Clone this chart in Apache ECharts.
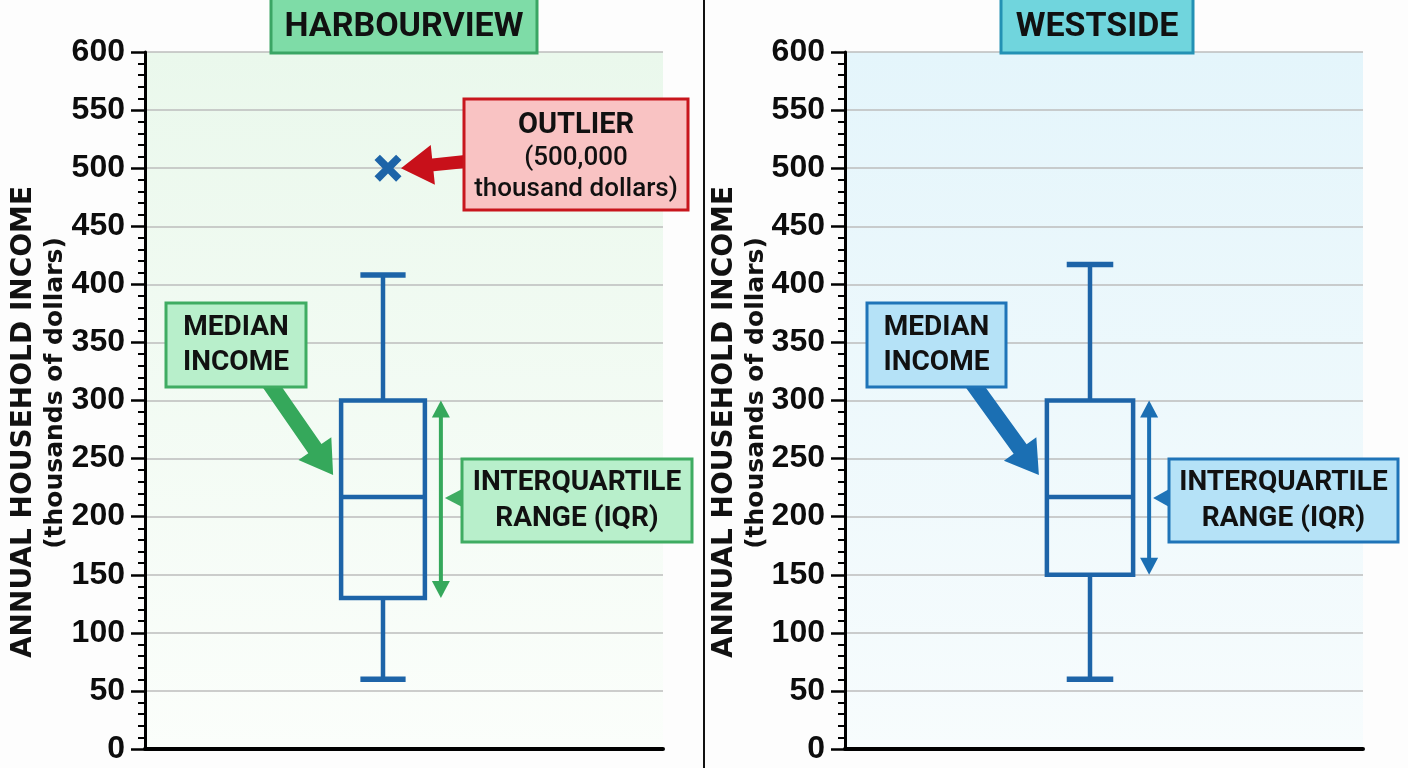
<!DOCTYPE html>
<html><head><meta charset="utf-8">
<script src="https://cdn.jsdelivr.net/npm/echarts@6/dist/echarts.min.js"></script>
<style>html,body{margin:0;padding:0;background:#fdfdfd}#c{width:1408px;height:768px}</style>
</head><body><div id="c"></div>
<script>
// ---- data ----
const categories = ['Harbourview', 'Westside'];
const panelTitles = ['HARBOURVIEW', 'WESTSIDE'];
const boxMin = [60, 60];
const boxQ1 = [130, 150];
const boxMedian = [217, 217];
const boxQ3 = [300, 300];
const boxMax = [408, 417];
const outlierValues = [[500], []];
const yAxisMin = 0, yAxisMax = 600, yAxisInterval = 50;
const yTitle = 'ANNUAL HOUSEHOLD INCOME';
const ySubtitle = '(thousands of dollars)';
const noteMedian = ['MEDIAN', 'INCOME'];
const noteIQR = ['INTERQUARTILE', 'RANGE (IQR)'];
const noteOutlier = ['OUTLIER', '(500,000', 'thousand dollars)'];

// ---- layout / style ----
const TOP = 52, H = 697;
const panels = [
  {axisLeft: 145, gridW: 518, boxGridW: 476, titleX: 271, titleW: 266,
   titleFill: '#7edca7', titleStroke: '#3aa564', noteFill: '#b8efcb', noteStroke: '#3fac62', arrow: '#35a85b',
   bgTop: '#eaf8ec', bgBottom: '#fbfefb', med: {x: 166, y: 303, w: 140, h: 84, sx: 268},
   iqr: {x: 462, y: 459, w: 230, h: 83}, yt: 24},
  {axisLeft: 845, gridW: 518, boxGridW: 490, titleX: 1001, titleW: 192,
   titleFill: '#70d5dd', titleStroke: '#2391b4', noteFill: '#b5e2f7', noteStroke: '#1f74b8', arrow: '#1b6fb3',
   bgTop: '#e4f5fb', bgBottom: '#f7fcfd', med: {x: 867, y: 303, w: 139, h: 84, sx: 971},
   iqr: {x: 1169, y: 459, w: 229, h: 83}, yt: 725}
];
const BOX_COLOR = '#1d64a8';
const TICK_FONT = '"Liberation Sans", Arial, sans-serif';
const NOTE_FONT = 'Roboto, "Liberation Sans", sans-serif';

const chart = echarts.init(document.getElementById('c'));

function renderBox(params, api) {
  const cat = api.value(0);
  const pMin = api.coord([cat, api.value(1)]);
  const pQ1 = api.coord([cat, api.value(2)]);
  const pMed = api.coord([cat, api.value(3)]);
  const pQ3 = api.coord([cat, api.value(4)]);
  const pMax = api.coord([cat, api.value(5)]);
  const band = api.size([1, 0])[0];
  const cx = pMed[0];
  const bw = band * 0.176, cw = band * 0.095;
  const ls = {stroke: BOX_COLOR, lineWidth: 4.5, fill: null};
  const cs = {stroke: BOX_COLOR, lineWidth: 5.5, fill: null};
  return {type: 'group', children: [
    {type: 'line', shape: {x1: cx, y1: pQ3[1], x2: cx, y2: pMax[1]}, style: ls},
    {type: 'line', shape: {x1: cx, y1: pQ1[1], x2: cx, y2: pMin[1]}, style: ls},
    {type: 'line', shape: {x1: cx - cw / 2, y1: pMax[1], x2: cx + cw / 2, y2: pMax[1]}, style: cs},
    {type: 'line', shape: {x1: cx - cw / 2, y1: pMin[1], x2: cx + cw / 2, y2: pMin[1]}, style: cs},
    {type: 'rect', shape: {x: cx - bw / 2, y: pQ3[1], width: bw, height: pQ1[1] - pQ3[1]}, style: {stroke: BOX_COLOR, lineWidth: 4.5, fill: 'none'}},
    {type: 'line', shape: {x1: cx - bw / 2, y1: pMed[1], x2: cx + bw / 2, y2: pMed[1]}, style: ls}
  ]};
}

const grids = [], xAxes = [], yAxes = [], series = [];
panels.forEach((p, i) => {
  grids.push({left: p.axisLeft, top: TOP, width: p.gridW, height: H, show: true, borderWidth: 0,
    backgroundColor: {type: 'linear', x: 0, y: 0, x2: 0, y2: 1, colorStops: [{offset: 0, color: p.bgTop}, {offset: 1, color: p.bgBottom}]}});
  grids.push({left: p.axisLeft, top: TOP, width: p.boxGridW, height: H});
  xAxes.push({type: 'category', gridIndex: 2 * i, data: [''], axisLine: {lineStyle: {color: '#000', width: 4}},
    axisTick: {show: false}, axisLabel: {show: false}});
  xAxes.push({type: 'category', gridIndex: 2 * i + 1, data: [categories[i]], show: false});
  yAxes.push({type: 'value', gridIndex: 2 * i, min: yAxisMin, max: yAxisMax, interval: yAxisInterval,
    axisLine: {show: true, lineStyle: {color: '#000', width: 3}},
    axisTick: {show: true, length: 14, lineStyle: {color: '#000', width: 2.5}},
    minorTick: {show: true, splitNumber: 5, length: 7, lineStyle: {color: '#000', width: 2}},
    splitLine: {show: true, lineStyle: {color: '#bdbdbd', width: 1.5}},
    axisLabel: {margin: 20, fontSize: 32, fontWeight: 'bold', fontFamily: TICK_FONT, color: '#0d0d0d'}});
  yAxes.push({type: 'value', gridIndex: 2 * i + 1, min: yAxisMin, max: yAxisMax, show: false});
  series.push({type: 'custom', xAxisIndex: 2 * i + 1, yAxisIndex: 2 * i + 1, renderItem: renderBox,
    encode: {x: 0, y: [1, 2, 3, 4, 5]},
    data: [[0, boxMin[i], boxQ1[i], boxMedian[i], boxQ3[i], boxMax[i]]], z: 5});
  series.push({type: 'scatter', xAxisIndex: 2 * i + 1, yAxisIndex: 2 * i + 1,
    data: outlierValues[i].map(v => [0, v]), symbolSize: 27, symbolOffset: [5, 0],
    symbol: 'path://M4,0 L10,6 L16,0 L20,4 L14,10 L20,16 L16,20 L10,14 L4,20 L0,16 L6,10 L0,4 Z',
    itemStyle: {color: BOX_COLOR, opacity: 1}, z: 6});
});

chart.setOption({animation: false, backgroundColor: '#fdfdfd', grid: grids, xAxis: xAxes, yAxis: yAxes, series: series});

function arrowPts(x1, y1, x2, y2, sw, hw, hl) {
  const dx = x2 - x1, dy = y2 - y1, L = Math.hypot(dx, dy), ux = dx / L, uy = dy / L, nx = -uy, ny = ux;
  const bx = x2 - ux * hl, by = y2 - uy * hl;
  return [[x1 + nx * sw / 2, y1 + ny * sw / 2], [bx + nx * sw / 2, by + ny * sw / 2], [bx + nx * hw / 2, by + ny * hw / 2],
          [x2, y2], [bx - nx * hw / 2, by - ny * hw / 2], [bx - nx * sw / 2, by - ny * sw / 2], [x1 - nx * sw / 2, y1 - ny * sw / 2]];
}
function noteBox(b, fill, stroke, lines, fontSize, lineH, z, weights) {
  const els = [{type: 'rect', z: z, shape: {x: b.x, y: b.y, width: b.w, height: b.h}, style: {fill: fill, stroke: stroke, lineWidth: 3}}];
  const n = lines.length, cy = b.y + b.h / 2;
  lines.forEach((t, k) => {
    const fs = Array.isArray(fontSize) ? fontSize[k] : fontSize;
    const fw = weights ? weights[k] : 'bold';
    els.push({type: 'text', z: z + 1, x: b.x + b.w / 2, y: cy + (k - (n - 1) / 2) * lineH,
      style: {text: t, fill: '#111', font: fw + ' ' + fs + 'px ' + NOTE_FONT, align: 'center', verticalAlign: 'middle'}});
  });
  return els;
}

const g = [];
// divider
g.push({type: 'line', z: 20, shape: {x1: 704, y1: 0, x2: 704, y2: 768}, style: {stroke: '#111', lineWidth: 2}});
panels.forEach((p, i) => {
  const gi = 2 * i + 1;
  const band = chart.getModel().getComponent('xAxis', gi).axis.getBandWidth();
  const bw = band * 0.176;
  const pMed = chart.convertToPixel({gridIndex: gi}, [0, boxMedian[i]]);
  const pQ1 = chart.convertToPixel({gridIndex: gi}, [0, boxQ1[i]]);
  const pQ3 = chart.convertToPixel({gridIndex: gi}, [0, boxQ3[i]]);
  const boxL = pMed[0] - bw / 2, boxR = pMed[0] + bw / 2;
  // title
  g.push({type: 'rect', z: 20, shape: {x: p.titleX, y: -2, width: p.titleW, height: 55}, style: {fill: p.titleFill, stroke: p.titleStroke, lineWidth: 3}});
  g.push({type: 'text', z: 21, x: p.titleX + p.titleW / 2, y: 27, style: {text: panelTitles[i], fill: '#111', font: 'bold 34px ' + NOTE_FONT, align: 'center', verticalAlign: 'middle'}});
  // y axis titles
  g.push({type: 'text', z: 20, x: p.yt, y: 422, rotation: Math.PI / 2,
    style: {text: yTitle, fill: '#111', font: 'bold 28px "DejaVu Sans", sans-serif', align: 'center', verticalAlign: 'middle'}});
  g.push({type: 'text', z: 20, x: p.yt + 31, y: 393, rotation: Math.PI / 2,
    style: {text: ySubtitle, fill: '#111', font: 'bold 25px "DejaVu Sans", sans-serif', align: 'center', verticalAlign: 'middle'}});
  // median arrow
  g.push({type: 'polygon', z: 8, shape: {points: arrowPts(p.med.sx, p.med.y + p.med.h - 6, boxL - 8, pMed[1] - 22, 16, 40, 32)}, style: {fill: p.arrow}});
  noteBox(p.med, p.noteFill, p.noteStroke, noteMedian, 28, 35, 10).forEach(e => g.push(e));
  // IQR double arrow
  const ax = boxR + 16, hl = 17, hw = 18;
  g.push({type: 'line', z: 8, shape: {x1: ax, y1: pQ3[1] + hl - 2, x2: ax, y2: pQ1[1] - hl + 2}, style: {stroke: p.arrow, lineWidth: 4}});
  g.push({type: 'polygon', z: 8, shape: {points: [[ax, pQ3[1]], [ax - hw / 2, pQ3[1] + hl], [ax + hw / 2, pQ3[1] + hl]]}, style: {fill: p.arrow}});
  g.push({type: 'polygon', z: 8, shape: {points: [[ax, pQ1[1]], [ax - hw / 2, pQ1[1] - hl], [ax + hw / 2, pQ1[1] - hl]]}, style: {fill: p.arrow}});
  // IQR pointer
  g.push({type: 'polygon', z: 9, shape: {points: [[ax + 4, pMed[1] + 1], [p.iqr.x + 2, pMed[1] - 9], [p.iqr.x + 2, pMed[1] + 11]]}, style: {fill: p.noteStroke}});
  noteBox(p.iqr, p.noteFill, p.noteStroke, noteIQR, 28, 36, 10).forEach(e => g.push(e));
  // outlier note
  if (outlierValues[i].length) {
    const po = chart.convertToPixel({gridIndex: gi}, [0, outlierValues[i][0]]);
    const ob = {x: 464, y: 99, w: 224, h: 111};
    g.push({type: 'polygon', z: 8, shape: {points: arrowPts(ob.x + 4, po[1] - 7, po[0] + 18, po[1], 13, 40, 32)}, style: {fill: '#c8101a'}});
    const els = noteBox(ob, '#f9c3c3', '#c8161d', noteOutlier, [29, 26, 26], 32, 10, ['bold', '500', '500']);
    els[1].y = ob.y + 27; els[2].y = ob.y + 59; els[3].y = ob.y + 90;
    els.forEach(e => g.push(e));
  }
});
chart.setOption({graphic: g});
</script>
</body></html>
